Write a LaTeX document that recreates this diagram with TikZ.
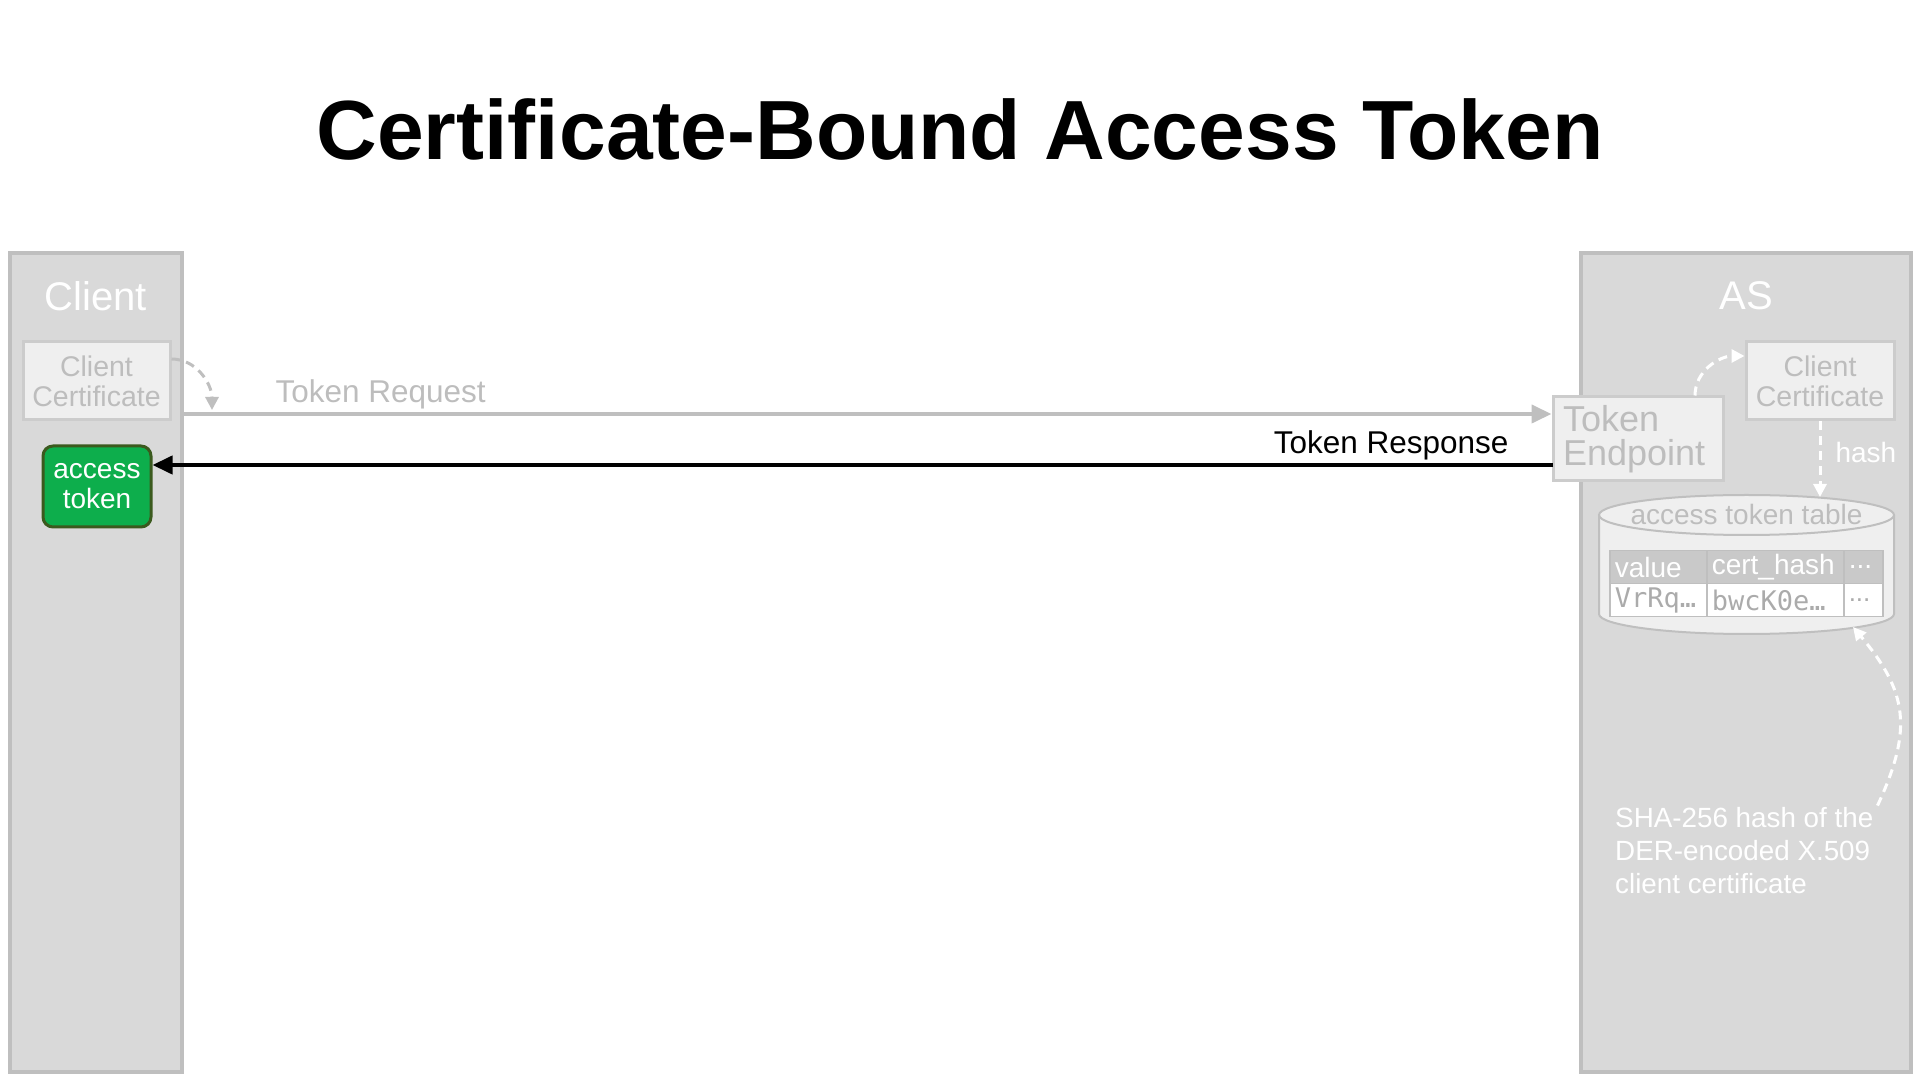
\documentclass[tikz,border=0pt]{standalone}
\usepackage{fontspec}
\setmainfont{Liberation Sans}
\newfontfamily\codefont{DejaVu Sans Mono}
\usetikzlibrary{arrows.meta}

\definecolor{lanegray}{HTML}{D9D9D9}
\definecolor{laneline}{HTML}{BFBFBF}
\definecolor{boxfill}{HTML}{EFEFEF}
\definecolor{boxline}{HTML}{CCCCCC}
\definecolor{fadetext}{HTML}{BDBDBD}
\definecolor{codetext}{HTML}{ABABAB}
\definecolor{headfill}{HTML}{C9C9C9}
\definecolor{tokengreen}{HTML}{0DAE4C}
\definecolor{tokenline}{HTML}{3B5A1E}

\begin{document}
\begin{tikzpicture}[x=1pt,y=1pt,
    lane/.style={draw=laneline,fill=lanegray,line width=4pt,minimum width=#1,minimum height=819pt,inner sep=0pt},
    lanetitle/.style={text=white,font=\fontsize{40}{42}\selectfont},
    fadebox/.style={draw=boxline,fill=boxfill,line width=3pt,text=fadetext,align=center,inner sep=0pt},
    msg/.style={line width=4pt,-{Triangle[length=20pt,width=18pt]}},
    hint/.style={white,line width=3pt,dash pattern=on 9pt off 6pt,-{Triangle[length=13pt,width=13pt]}},
    cell/.style={draw=laneline,line width=1.5pt,anchor=north west,minimum height=33pt,inner xsep=5pt,inner ysep=0pt,align=left,text width=#1},
    head/.style={fill=headfill,text=white,font=\fontsize{28}{30}\selectfont},
    row/.style={fill=white,text=codetext,font=\codefont\fontsize{27}{29}\selectfont}]

    \useasboundingbox (0,0) rectangle (1920,1080);

    \node (title) at (960,951) {\fontsize{84}{90}\selectfont\bfseries Certificate-Bound Access Token};

    \node[lane=172pt] (client) at (96,417.5) {};
    \node[lane=330pt] (as) at (1746,417.5) {};
    \node[lanetitle] (clientname) at (96,784) {Client};
    \node[lanetitle] (asname) at (1746,784) {AS};

    \node[fadebox,minimum width=147pt,minimum height=78pt,font=\fontsize{28.5}{30}\selectfont] (cert1) at (96.5,699) {Client\\Certificate};
    \node[fadebox,minimum width=148pt,minimum height=78pt,font=\fontsize{28.5}{30}\selectfont] (cert2) at (1820,699) {Client\\Certificate};
    \node[fadebox,text width=150pt,inner xsep=10pt,minimum height=84pt,align=left,font=\fontsize{36}{34}\selectfont] (ep) at (1638,641) {Token\\Endpoint};
    \node[draw=tokenline,fill=tokengreen,line width=3pt,rounded corners=10pt,minimum width=108pt,minimum height=81pt,inner sep=0pt,
        text=white,align=center,font=\fontsize{28}{30}\selectfont] (token) at (97,593.5) {access\\token};

    \coordinate (reqstart) at (182,666);
    \coordinate (resp) at (1553,615);
    \coordinate (certin) at (212,670);
    \coordinate (cyltop) at (1820,583);
    \coordinate (cylbot) at (1853,453);

    \draw[msg,laneline] (reqstart) -- (ep.west |- reqstart);
    \draw[msg,black] (resp) -- (token.east |- resp);
    \node[anchor=west,text=fadetext,font=\fontsize{31.5}{33}\selectfont] (reqlabel) at (272,686) {Token Request};
    \node[anchor=east,font=\fontsize{31.5}{33}\selectfont] (resplabel) at (1512,635) {Token Response};

    \draw[hint,laneline] ([yshift=22pt]cert1.east) to[out=0,in=90] (certin);
    \draw[hint] ([xshift=57pt]ep.north) to[out=90,in=180] ([yshift=25pt]cert2.west);

    % access token table
    \fill[boxfill] (1599,466) -- (1599,565) arc[start angle=180,end angle=0,x radius=147.5,y radius=20]
        -- (1894,466) arc[start angle=0,end angle=-180,x radius=147.5,y radius=20] -- cycle;
    \draw[laneline,line width=2pt] (1599,565) -- (1599,466) arc[start angle=180,end angle=360,x radius=147.5,y radius=20] -- (1894,565);
    \draw[laneline,line width=2pt] (1746.5,565) ellipse[x radius=147.5,y radius=20];
    \node[text=fadetext,font=\fontsize{28}{30}\selectfont] (dbname) at (1746.5,566) {access token table};

    \node[cell=87pt,head] (h1) at (1609,530) {value};
    \node[cell=127pt,head] (h2) at (1706,530) {cert\_hash};
    \node[cell=29pt,head] (h3) at (1843,530) {...};
    \node[cell=87pt,row] (d1) at (1609,497) {VrRq…};
    \node[cell=127pt,row] (d2) at (1706,497) {bwcK0e…};
    \node[cell=29pt,row,font=\fontsize{26}{28}\selectfont] (d3) at (1843,497) {...};

    \draw[hint] (cert2.south) -- (cyltop);
    \node[anchor=west,text=white,font=\fontsize{28}{30}\selectfont] (hashlabel) at (1832,628) {hash};

    \node[anchor=west,inner sep=0pt,text=white,align=left,font=\fontsize{27.8}{33}\selectfont] (note) at (1615,229)
        {SHA-256 hash of the\\DER-encoded X.509\\client certificate};
    \draw[hint] ([xshift=4pt,yshift=2pt]note.north east) to[out=65,in=-50,looseness=1.2] (cylbot);
\end{tikzpicture}
\end{document}
